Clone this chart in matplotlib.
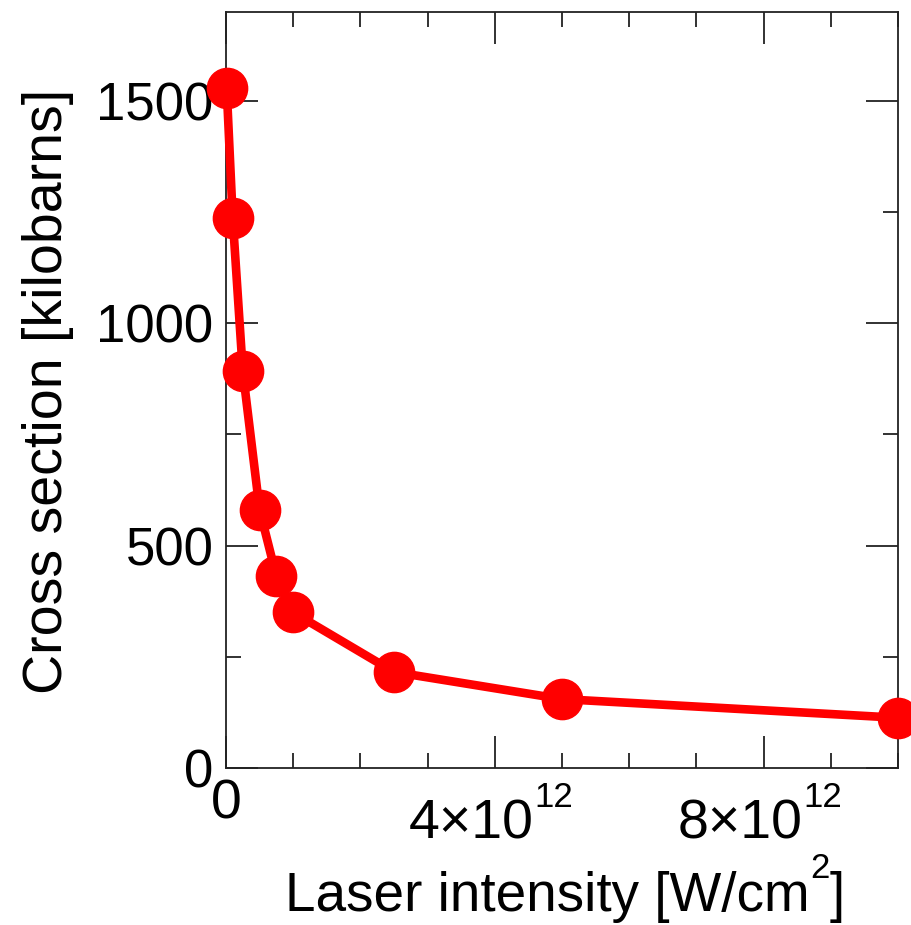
import numpy as np
import matplotlib.pyplot as plt
from matplotlib.ticker import MultipleLocator, FixedLocator, NullFormatter

plt.rcParams['font.family'] = ['Liberation Sans', 'DejaVu Sans']

# Laser intensity [W/cm^2] and cross section [kilobarns]
intensity = np.array([1e10, 1e11, 2.5e11, 5e11, 7.5e11, 1e12, 2.5e12, 5e12, 1e13])
cross_section = np.array([1530, 1237, 892, 581, 431, 350, 216, 155, 113])

x_major = [0, 4e12, 8e12]
x_mantissa = ['0', '4\u00d710', '8\u00d710']
x_exponent = ['', '12', '12']

fig = plt.figure(figsize=(9.12, 9.25), dpi=100)
ax = fig.add_axes([0.2478, 0.1697, 0.7368, 0.8173])

ax.plot(intensity, cross_section, color='#ff0000', lw=6.2, marker='o',
        markersize=29, clip_on=False, zorder=3)

ax.set_xlim(0, 1e13)
ax.set_ylim(0, 1700)

ax.xaxis.set_major_locator(FixedLocator(x_major))
ax.xaxis.set_major_formatter(NullFormatter())
ax.xaxis.set_minor_locator(MultipleLocator(1e12))
ax.yaxis.set_major_locator(MultipleLocator(500))
ax.yaxis.set_minor_locator(MultipleLocator(250))

ax.tick_params(which='both', direction='in', top=True, right=True,
               labelsize=38, width=1.3, color='#222222')
ax.tick_params(which='major', length=23, pad=9)
ax.tick_params(which='minor', length=11)
for s in ax.spines.values():
    s.set_linewidth(1.3)
    s.set_color('#222222')

# x tick labels written as mantissa plus raised exponent
xc = ('data', 'axes fraction')
for xv, m, e in zip(x_major, x_mantissa, x_exponent):
    if not e:
        ax.annotate(m, xy=(xv, 0), xycoords=xc, xytext=(0, -50),
                    textcoords='offset pixels', ha='center', va='baseline',
                    fontsize=40)
        continue
    ax.annotate(m, xy=(xv, 0), xycoords=xc, xytext=(39, -70),
                textcoords='offset pixels', ha='right', va='baseline',
                fontsize=40)
    ax.annotate(e, xy=(xv, 0), xycoords=xc, xytext=(40, -39),
                textcoords='offset pixels', ha='left', va='baseline',
                fontsize=25)

# x axis title with a raised "2"
t1 = ax.annotate('Laser intensity [W/cm', xy=(0, 0), xycoords='axes fraction',
                 xytext=(59, -143), textcoords='offset pixels',
                 ha='left', va='baseline', fontsize=39.5)
t2 = ax.annotate('2', xy=(1, 0), xycoords=t1, xytext=(1, 38),
                 textcoords='offset pixels', ha='left', va='bottom',
                 fontsize=25)
ax.annotate(']', xy=(1, 0), xycoords=(t2, t1), xytext=(0, 0),
            textcoords='offset pixels', ha='left', va='bottom', fontsize=39.5)

ax.text(-0.244, 0.498, 'Cross section [kilobarns]', transform=ax.transAxes,
        rotation=90, rotation_mode='anchor', ha='center', va='baseline',
        fontsize=40)

fig.savefig('out.png', dpi=100)
